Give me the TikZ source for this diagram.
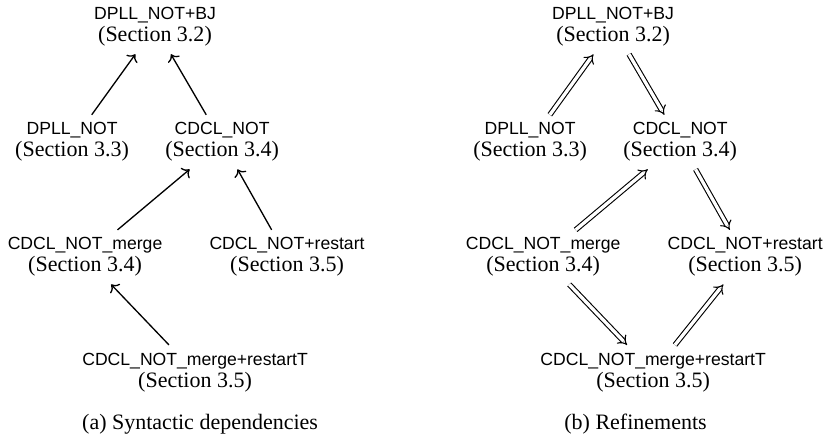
\documentclass[tikz,border=0pt]{standalone}
\usepackage{fontspec}
\setmainfont{Liberation Serif}
\setsansfont{Liberation Sans}
\usetikzlibrary{arrows.meta}

\newcommand{\solver}[2]{{\sffamily\fontsize{8}{10}\selectfont #1}\\(Section #2)}

\begin{document}
\begin{tikzpicture}[node distance=52.3pt, auto,
    every node/.style={align=center, font=\fontsize{10}{10}\selectfont},
    dep/.style={->, line width=0.6pt},
    refines/.style={double, line width=0.5pt, double distance=1.5pt, -{Implies}}]
    \useasboundingbox (-70.45pt,12.27pt) rectangle (305.4pt,-187.3pt);
    % (a) syntactic dependencies
    \node (sbj) {\solver{DPLL\_NOT+BJ}{3.2}};
    \node (sdpll) [below of=sbj, xshift=-37.7pt] {\solver{DPLL\_NOT}{3.3}};
    \node (scdcl) [below of=sbj, xshift=30.5pt] {\solver{CDCL\_NOT}{3.4}};
    \node (smerge) [below of=scdcl, xshift=-62.3pt] {\solver{CDCL\_NOT\_merge}{3.4}};
    \node (srestart) [below of=scdcl, xshift=29.5pt] {\solver{CDCL\_NOT+restart}{3.5}};
    \node (smr) [below of=smerge, xshift=50pt] {\solver{CDCL\_NOT\_merge+restartT}{3.5}};
    \node (capa) [below of=smr, node distance=23.6pt, xshift=2.3pt] {(a) Syntactic dependencies};
    \draw[dep] (sdpll) to (sbj);
    \draw[dep] (scdcl) to (sbj);
    \draw[dep] (smerge) to (scdcl);
    \draw[dep] (srestart) to (scdcl);
    \draw[dep] (smr) to (smerge);
    % (b) refinements
    \node (rbj) [right of=sbj, node distance=208.2pt] {\solver{DPLL\_NOT+BJ}{3.2}};
    \node (rdpll) [below of=rbj, xshift=-37.7pt] {\solver{DPLL\_NOT}{3.3}};
    \node (rcdcl) [below of=rbj, xshift=30.5pt] {\solver{CDCL\_NOT}{3.4}};
    \node (rmerge) [below of=rcdcl, xshift=-62.3pt] {\solver{CDCL\_NOT\_merge}{3.4}};
    \node (rrestart) [below of=rcdcl, xshift=29.5pt] {\solver{CDCL\_NOT+restart}{3.5}};
    \node (rmr) [below of=rmerge, xshift=50pt] {\solver{CDCL\_NOT\_merge+restartT}{3.5}};
    \node (capb) [below of=rmr, node distance=23.6pt, xshift=-8pt] {(b) Refinements};
    \draw[refines] (rdpll) to (rbj);
    \draw[refines] (rbj) to (rcdcl);
    \draw[refines] (rmerge) to (rcdcl);
    \draw[refines] (rcdcl) to (rrestart);
    \draw[refines] (rmerge) to (rmr);
    \draw[refines] (rmr) to (rrestart);
  \end{tikzpicture}
\end{document}
